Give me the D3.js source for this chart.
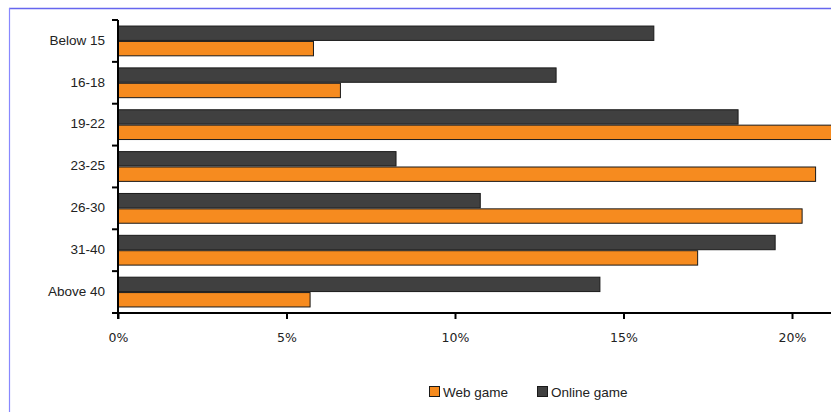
<!DOCTYPE html>
<html>
<head>
<meta charset="utf-8">
<script src="https://cdn.jsdelivr.net/npm/d3@7/dist/d3.min.js"></script>
<style>
  html, body { margin: 0; padding: 0; background: #fff; overflow: hidden; }
  svg { display: block; font-family: "Liberation Sans", Arial, sans-serif; }
</style>
</head>
<body>
<svg id="chart" width="831" height="412"></svg>
<script>
// Age groups and share of players (%) per game type
const ageGroups = ["Below 15", "16-18", "19-22", "23-25", "26-30", "31-40", "Above 40"];
const webGame = [5.8, 6.6, 21.6, 20.7, 20.3, 17.2, 5.7];
const onlineGame = [15.9, 13.0, 18.4, 8.25, 10.75, 19.5, 14.3];
const seriesNames = ["Online game", "Web game"];
const xTicks = [0, 5, 10, 15, 20];

const colors = { "Web game": "#f68b1f", "Online game": "#404040" };

const svg = d3.select("#chart");

// page frame
svg.append("line").attr("x1", 9).attr("x2", 831).attr("y1", 8.5).attr("y2", 8.5)
  .attr("stroke", "#6666ee").attr("stroke-width", 1.5);
svg.append("line").attr("x1", 9.5).attr("x2", 9.5).attr("y1", 8).attr("y2", 412)
  .attr("stroke", "#8888ff").attr("stroke-width", 1.2);

const margin = { left: 118, top: 20 };
const plotBottom = 313;

const x = d3.scaleLinear().domain([0, 20]).range([margin.left, 792]);
const y = d3.scaleBand().domain(ageGroups).range([margin.top, plotBottom]).paddingInner(0).paddingOuter(0);
const ySub = d3.scaleBand().domain(seriesNames).range([0, y.bandwidth()]).paddingInner(0.0).paddingOuter(0.36);

const rows = ageGroups.map((g, i) => ({ group: g, "Web game": webGame[i], "Online game": onlineGame[i] }));

const groups = svg.append("g").selectAll("g")
  .data(rows).join("g")
  .attr("transform", d => `translate(0,${y(d.group)})`);

groups.selectAll("rect")
  .data(d => seriesNames.map(s => ({ s, v: d[s] })))
  .join("rect")
  .attr("x", x(0))
  .attr("y", d => ySub(d.s) + 0.5)
  .attr("width", d => x(d.v) - x(0))
  .attr("height", ySub.bandwidth() - 1)
  .attr("fill", d => colors[d.s])
  .attr("stroke", "#1a1a1a")
  .attr("stroke-width", 1);

// y axis: category labels, ticks at band boundaries
const yAxisG = svg.append("g");
yAxisG.append("line")
  .attr("x1", x(0)).attr("x2", x(0))
  .attr("y1", margin.top).attr("y2", plotBottom + 6)
  .attr("stroke", "#000").attr("stroke-width", 2);
const boundaries = ageGroups.map(g => y(g)).concat([plotBottom]);
yAxisG.selectAll("line.tick").data(boundaries).join("line")
  .attr("class", "tick")
  .attr("x1", x(0) - 6).attr("x2", x(0))
  .attr("y1", d => d).attr("y2", d => d)
  .attr("stroke", "#000").attr("stroke-width", 2);
yAxisG.selectAll("text").data(ageGroups).join("text")
  .attr("x", 105)
  .attr("y", d => y(d) + y.bandwidth() / 2 - 1)
  .attr("dy", "0.35em")
  .attr("text-anchor", "end")
  .attr("font-size", 13.5)
  .attr("fill", "#222")
  .text(d => d);

// x axis
const xAxis = d3.axisBottom(x)
  .tickValues(xTicks)
  .tickFormat(d => d + "%")
  .tickSize(6)
  .tickPadding(14);
const xAxisG = svg.append("g")
  .attr("transform", `translate(0,${plotBottom})`)
  .call(xAxis);
xAxisG.select(".domain").remove();
xAxisG.append("line")
  .attr("x1", x(0) - 6).attr("x2", 831)
  .attr("y1", 0).attr("y2", 0)
  .attr("stroke", "#000").attr("stroke-width", 2);
xAxisG.selectAll(".tick line").attr("stroke", "#000").attr("stroke-width", 2);
xAxisG.selectAll(".tick text")
  .attr("font-family", "'DejaVu Sans', sans-serif")
  .attr("font-size", 12.5)
  .attr("fill", "#222");

// legend
const legendItems = [
  { name: "Web game", x: 429 },
  { name: "Online game", x: 537 }
];
const legend = svg.append("g").selectAll("g")
  .data(legendItems).join("g")
  .attr("transform", d => `translate(${d.x},386)`);
legend.append("rect")
  .attr("x", 0.5).attr("y", 0.5)
  .attr("width", 10).attr("height", 10)
  .attr("fill", d => colors[d.name])
  .attr("stroke", "#1a1a1a");
legend.append("text")
  .attr("x", 14).attr("y", 6)
  .attr("dy", "0.35em")
  .attr("font-size", 13.5)
  .attr("fill", "#222")
  .text(d => d.name);
</script>
</body>
</html>
